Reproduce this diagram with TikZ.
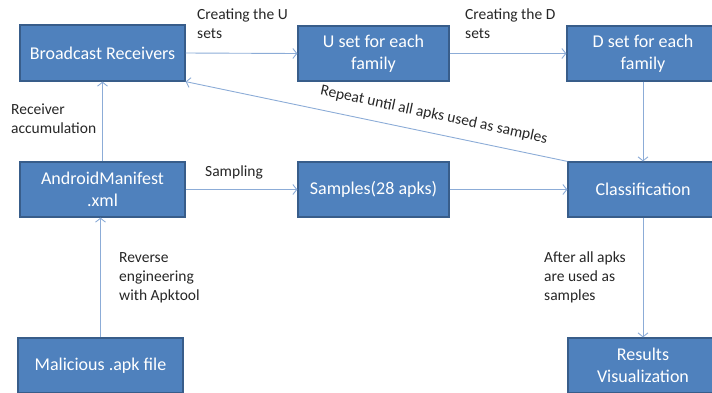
\documentclass[tikz,border=0pt]{standalone}
\usepackage{fontspec}
\setmainfont{Carlito}
\usetikzlibrary{arrows.meta}
\definecolor{boxfill}{RGB}{79,129,189}
\definecolor{boxline}{RGB}{56,93,138}
\definecolor{arrcol}{RGB}{140,172,215}
\tikzset{
  blk/.style={draw=boxline, line width=1.2pt, fill=boxfill, text=white, align=center,
    font=\fontsize{18}{22}\selectfont, inner sep=0pt},
  conn/.style={draw=arrcol, line width=0.9pt, -{Straight Barb[length=4pt,width=10pt,line width=0.9pt]}},
  lbl/.style={font=\fontsize{15.5}{19}\selectfont, align=left, inner sep=0pt, anchor=north west, text=black!85}
}
\begin{document}
\begin{tikzpicture}[x=1pt,y=-1pt]
\useasboundingbox (0,0) rectangle (712,392);
\clip (0,0) rectangle (712,392);
% boxes
\node[blk, minimum width=165pt, minimum height=56pt] (br) at (102.5,53) {Broadcast Receivers};
\node[blk, minimum width=151pt, minimum height=55pt] (u) at (373.5,53.5) {U set for each\\family};
\node[blk, minimum width=152pt, minimum height=55pt] (d) at (643,53.5) {D set for each\\family};
\node[blk, minimum width=165pt, minimum height=55pt] (am) at (102.5,189.5) {AndroidManifest\\.xml};
\node[blk, minimum width=151pt, minimum height=55pt] (sam) at (373.5,189.5) {Samples(28 apks)};
\node[blk, minimum width=150pt, minimum height=55pt] (cls) at (643,189.5) {Classification};
\node[blk, minimum width=165pt, minimum height=55pt] (mal) at (100.5,365.5) {Malicious .apk file};
\node[blk, minimum width=150pt, minimum height=55pt] (res) at (643,365.5) {Results\\Visualization};
% connectors
\draw[conn] (br.east) -- (u.west);
\draw[conn] (u.east) -- (d.west);
\draw[conn] (d.south) -- (cls.north);
\draw[conn] (am.north) -- (br.south);
\draw[conn] (mal.north) -- (mal.north |- am.south);
\draw[conn] (am.east) -- (sam.west);
\draw[conn] (sam.east) -- (cls.west);
\draw[conn] (cls.south) -- (res.north);
\draw[conn] (cls.north west) -- (br.south east);
% labels
\node[lbl] (l1) at (197,8.5) {Creating the U\\sets};
\node[lbl] (l2) at (465,8.5) {Creating the D\\sets};
\node[lbl] (l3) at (11,104) {Receiver\\accumulation};
\node[lbl] (l4) at (205,165.5) {Sampling};
\node[lbl] (l5) at (119,252.5) {Reverse\\engineering\\with Apktool};
\node[lbl] (l6) at (544,251.5) {After all apks\\are used as\\samples};
\node[font=\fontsize{15.5}{19}\selectfont, inner sep=0pt, rotate=-12.1, text=black!85] (l7) at (434,115) {Repeat until all apks used as samples};
\end{tikzpicture}
\end{document}
